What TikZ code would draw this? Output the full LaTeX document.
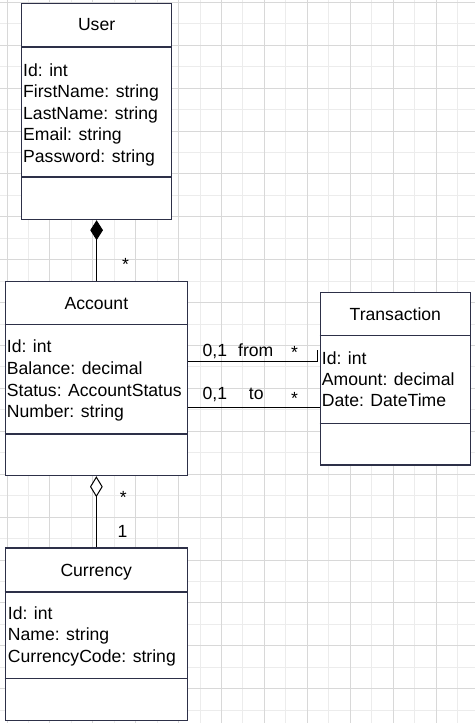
\documentclass[tikz,border=0pt]{standalone}
\usepackage{fontspec}
\setmainfont{Liberation Sans}
\usetikzlibrary{arrows.meta}
\definecolor{gridminor}{RGB}{236,236,236}
\definecolor{gridmajor}{RGB}{216,216,216}
\definecolor{boxline}{RGB}{45,48,72}
\tikzset{
  classbox/.style={draw=boxline, line width=1.2pt, fill=white, rectangle, inner sep=0pt, anchor=north west},
  divider/.style={draw=boxline, line width=1.2pt},
  txt/.style={inner sep=0pt, anchor=base west, font=\fontsize{17.6}{21}\selectfont},
  head/.style={inner sep=0pt, anchor=base, font=\fontsize{17.6}{21}\selectfont},
  conn/.style={draw=black, line width=1pt},
}
\begin{document}
\begin{tikzpicture}[x=1pt,y=-1pt]
\useasboundingbox (0,0) rectangle (475,723);
\fill[white] (0,0) rectangle (475,723);
% grid
\foreach \k in {1,3,...,21} { \draw[gridminor, line width=1pt] ({7+21.45*\k},0) -- ({7+21.45*\k},723); }
\foreach \k in {1,3,...,33} { \draw[gridminor, line width=1pt] (0,{2.3+21.45*\k}) -- (475,{2.3+21.45*\k}); }
\foreach \k in {0,2,...,20} { \draw[gridmajor, line width=1pt] ({7+21.45*\k},0) -- ({7+21.45*\k},723); }
\foreach \k in {0,2,...,32} { \draw[gridmajor, line width=1pt] (0,{2.3+21.45*\k}) -- (475,{2.3+21.45*\k}); }

% boxes
\node[classbox, minimum width=150pt, minimum height=216pt] (user) at (21,3) {};
\node[classbox, minimum width=182.5pt, minimum height=194pt] (account) at (4.5,281) {};
\node[classbox, minimum width=150.5pt, minimum height=172.6pt] (transaction) at (319.5,291.7) {};
\node[classbox, minimum width=182.2pt, minimum height=172.7pt] (currency) at (4.5,547.3) {};

% dividers
\draw[divider] (user.west |- 0,47) -- (user.east |- 0,47);
\draw[divider] (user.west |- 0,177) -- (user.east |- 0,177);
\draw[divider] (account.west |- 0,324.5) -- (account.east |- 0,324.5);
\draw[divider] (account.west |- 0,434) -- (account.east |- 0,434);
\draw[divider] (transaction.west |- 0,335.7) -- (transaction.east |- 0,335.7);
\draw[divider] (transaction.west |- 0,423.3) -- (transaction.east |- 0,423.3);
\draw[divider] (currency.west |- 0,592) -- (currency.east |- 0,592);
\draw[divider] (currency.west |- 0,678.3) -- (currency.east |- 0,678.3);

% headers
\node[head] (userT) at (user.north |- 0,30.7) {User};
\node[head] (accountT) at (account.north |- 0,309.3) {Account};
\node[head] (transactionT) at (transaction.north |- 0,320) {Transaction};
\node[head] (currencyT) at (currency.north |- 0,576) {Currency};

% attributes
\node[txt] (u1) at (23,76) {Id: int};
\node[txt] (u2) at (23,97.5) {FirstName: string};
\node[txt] (u3) at (23,119) {LastName: string};
\node[txt] (u4) at (23,140.5) {Email: string};
\node[txt] (u5) at (23,162) {Password: string};

\node[txt] (a1) at (6.7,352.7) {Id: int};
\node[txt] (a2) at (6.7,374.4) {Balance: decimal};
\node[txt] (a3) at (6.7,396) {Status: AccountStatus};
\node[txt] (a4) at (6.7,417.7) {Number: string};

\node[txt] (t1) at (321.7,364) {Id: int};
\node[txt] (t2) at (321.7,385.3) {Amount: decimal};
\node[txt] (t3) at (321.7,406.7) {Date: DateTime};

\node[txt] (c1) at (7.7,619.3) {Id: int};
\node[txt] (c2) at (7.7,640.8) {Name: string};
\node[txt] (c3) at (7.7,662.3) {CurrencyCode: string};

% connectors
\draw[conn, {Diamond[length=20pt,width=12.7pt,fill=black]}-] (user.south) -- (user.south |- account.north);
\draw[conn, {Diamond[length=21pt,width=12.7pt,fill=white]}-] (account.south) -- (account.south |- currency.north);
\coordinate (fromS) at (account.east |- 0,361);
\coordinate (fromE) at (317,350);
\draw[conn] (fromS) -- (fromE |- fromS) -- (fromE);
\draw[conn] (account.east |- 0,407) -- (transaction.west |- 0,407);

% labels
\node[txt] (l1) at (122,270.5) {*};
\node[txt] (l2) at (119.7,503.5) {*};
\node[txt] (l3) at (117.5,537.7) {1};
\node[txt] (l4) at (202.5,356.5) {0,1};
\node[txt] (l5) at (238,356.5) {from};
\node[txt] (l6) at (291,358.9) {*};
\node[txt] (l7) at (202.5,399.3) {0,1};
\node[txt] (l8) at (248.7,399.3) {to};
\node[txt] (l9) at (291,404.5) {*};
\end{tikzpicture}
\end{document}
